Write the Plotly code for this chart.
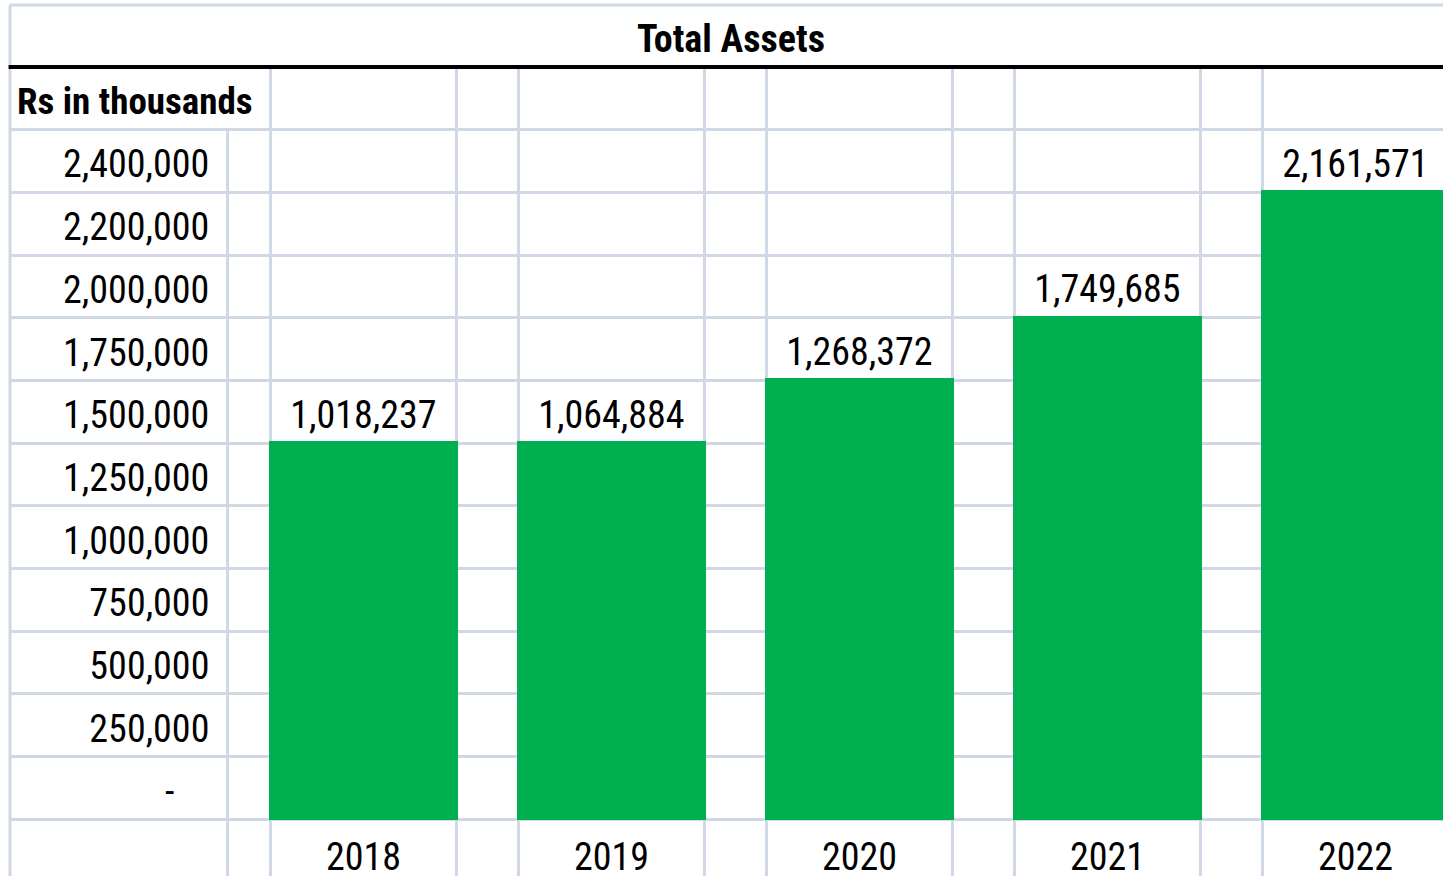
import numpy as np
import plotly.graph_objects as go

# ---- data ----
years = ["2018", "2019", "2020", "2021", "2022"]
total_assets = [1018237, 1064884, 1268372, 1749685, 2161571]
y_tick_values = [0, 250000, 500000, 750000, 1000000, 1250000, 1500000,
                 1750000, 2000000, 2200000, 2400000]
title_text = "Total Assets"
unit_text = "Rs in thousands"

# ---- styling constants ----
FONT = "Liberation Sans Narrow, Arial Narrow, Roboto Condensed, sans-serif"
GREEN = "#00B050"
GRID = "#D0D7E5"
BAR_W = 0.75
FS = 38

idx = np.arange(len(years))
# each value fills spreadsheet rows up to the first tick row >= value
rows_filled = np.searchsorted(np.array(y_tick_values), np.array(total_assets)) + 1
y_tick_pos = np.arange(len(y_tick_values)) + 0.45
y_tick_text = ["-" + "\u00a0" * 4 if v == 0 else f"{v:,}" for v in y_tick_values]
n_rows = len(y_tick_values)

# column boundary lines (label column, spacer, bar columns)
col_lines = [-1.4254, -0.55] + [v for i in idx for v in (i - BAR_W / 2, i + BAR_W / 2)]

fig = go.Figure()
fig.add_trace(go.Bar(
    x=idx, y=rows_filled, width=BAR_W,
    marker=dict(color=GREEN, line=dict(width=3, color=GREEN)),
    hoverinfo="skip", showlegend=False,
))
fig.add_trace(go.Scatter(
    x=idx, y=rows_filled + 0.4, mode="text",
    text=[f"{v:,}" for v in total_assets],
    textposition="middle center",
    textfont=dict(family=FONT, size=FS, color="black"),
    hoverinfo="skip", showlegend=False, cliponaxis=False,
))

fig.update_layout(
    width=1443, height=879,
    margin=dict(l=10, r=0, t=5, b=0),
    paper_bgcolor="white", plot_bgcolor="white",
    font=dict(family=FONT, size=FS, color="black"),
    bargap=0,
    xaxis=dict(
        range=[-1.4254, 4.3528], tickmode="array", tickvals=idx, ticktext=years,
        anchor="free", position=57 / 874, showgrid=False, zeroline=False,
        showline=False, ticks="outside", ticklen=4, tickcolor="rgba(0,0,0,0)",
        tickfont=dict(family=FONT, size=FS, color="black"),
        minor=dict(tickmode="array", tickvals=col_lines, showgrid=True,
                   gridcolor=GRID, gridwidth=3, ticks=""),
    ),
    yaxis=dict(
        range=[-0.906, 12.989], tickmode="array", tickvals=y_tick_pos, ticktext=y_tick_text,
        anchor="free", position=217 / 1433, showgrid=False, zeroline=False,
        showline=False, ticks="outside", ticklen=10, tickcolor="rgba(0,0,0,0)",
        tickfont=dict(family=FONT, size=FS, color="black"),
        minor=dict(tickmode="array", tickvals=list(range(0, n_rows + 1)), showgrid=True,
                   gridcolor=GRID, gridwidth=3, ticks=""),
    ),
)

shapes = [
    # mask grid in the merged title row
    dict(type="rect", xref="paper", yref="y", x0=0, x1=1, y0=n_rows + 1, y1=12.989,
         fillcolor="white", line=dict(width=0), layer="above"),
    # mask label-column divider in the merged unit row
    dict(type="rect", xref="x", yref="y", x0=-0.6, x1=-0.5, y0=n_rows + 0.03, y1=n_rows + 1,
         fillcolor="white", line=dict(width=0), layer="above"),
    # left border
    dict(type="line", xref="paper", yref="paper", x0=0, x1=0, y0=0, y1=1,
         line=dict(color=GRID, width=3), layer="above"),
    # top border
    dict(type="line", xref="paper", yref="paper", x0=0, x1=1, y0=1, y1=1,
         line=dict(color=GRID, width=3), layer="above"),
    # thick black line under title
    dict(type="line", xref="paper", yref="y", x0=-0.001, x1=1, y0=n_rows + 1, y1=n_rows + 1,
         line=dict(color="black", width=4), layer="above"),
]
fig.update_layout(shapes=shapes)

fig.add_annotation(text=f"<b>{title_text}</b>", xref="paper", yref="y",
                   x=(731 - 10) / 1433, y=n_rows + 1.45, showarrow=False,
                   xanchor="center", yanchor="middle",
                   font=dict(family=FONT, size=FS, color="black"))
fig.add_annotation(text=f"<b>{unit_text}</b>", xref="paper", yref="y",
                   x=(15 - 10) / 1433, y=n_rows + 0.45, showarrow=False,
                   xanchor="left", yanchor="middle",
                   font=dict(family=FONT, size=37, color="black"))

fig.write_html("out.html", config={"displayModeBar": False},
               post_script="document.body.style.margin='0';document.body.style.overflow='hidden';")
